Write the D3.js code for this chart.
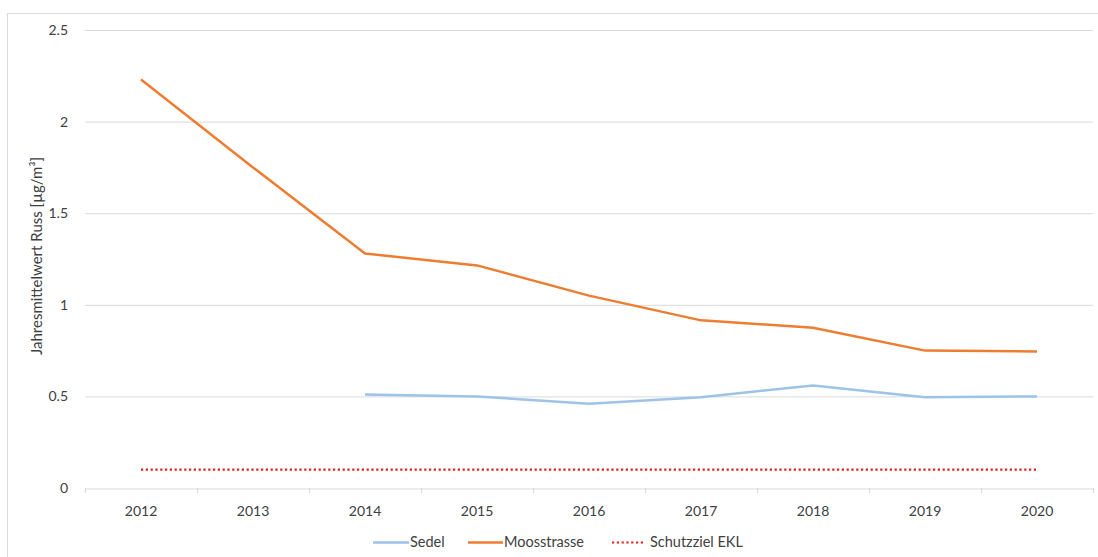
<!DOCTYPE html>
<html><head><meta charset="utf-8">
<script src="https://cdn.jsdelivr.net/npm/d3@7"></script>
<style>body{margin:0;background:#fff}svg{font-family:Lato,"Open Sans",sans-serif}</style>
</head><body><svg id="c" width="1098" height="557"></svg>
<script>
const years = ["2012","2013","2014","2015","2016","2017","2018","2019","2020"];
const sedel = [null,null,0.51,0.50,0.46,0.495,0.56,0.495,0.50];
const moos = [2.23,1.75,1.28,1.215,1.05,0.915,0.875,0.75,0.745];
const ziel = [0.1,0.1,0.1,0.1,0.1,0.1,0.1,0.1,0.1];
const yTicks = [0,0.5,1,1.5,2,2.5];
const yTickLabels = ["0","0.5","1","1.5","2","2.5"];

const TXT="#404040";
const svg = d3.select("#c");
svg.append("rect").attr("x",7.5).attr("y",13.5).attr("width",1100).attr("height",560).attr("fill","#fff").attr("stroke","#d9d9d9");
const L=85,R=1093,T=30,B=488;
const x = d3.scaleBand().domain(years).range([L,R]);
const y = d3.scaleLinear().domain([0,2.5]).range([B,T]);
const cx = d=>x(d)+x.bandwidth()/2;

// grid
svg.append("g").selectAll("line").data(yTicks.filter(v=>v>0)).join("line")
 .attr("x1",L).attr("x2",R).attr("y1",d=>y(d)+0.5).attr("y2",d=>y(d)+0.5).attr("stroke","#d9d9d9");
// y labels
svg.append("g").selectAll("text").data(yTicks).join("text")
 .attr("x",68).attr("y",d=>y(d)+5).attr("text-anchor","end").attr("font-size",14).attr("fill",TXT)
 .text((d,i)=>yTickLabels[i]);
// x axis
const xa = svg.append("g").attr("transform",`translate(0,${B+0.5})`)
 .call(d3.axisBottom(x).tickSize(0).tickPadding(18));
xa.select(".domain").attr("stroke","#d9d9d9");
xa.selectAll("text").attr("font-size",14).attr("fill",TXT).attr("font-family","Lato,'Open Sans',sans-serif");
svg.append("g").selectAll("line").data(years.concat(["end"])).join("line")
 .attr("x1",(d,i)=>Math.round(L+i*x.bandwidth())+0.5).attr("x2",(d,i)=>Math.round(L+i*x.bandwidth())+0.5)
 .attr("y1",B).attr("y2",B+5).attr("stroke","#d9d9d9");

// axis title
svg.append("text").attr("transform",`translate(42,256) rotate(-90)`).attr("text-anchor","middle")
 .attr("font-size",15).attr("fill",TXT).text("Jahresmittelwert Russ [µg/m³]");

const line = d3.line().defined(d=>d.v!=null).x(d=>cx(d.k)).y(d=>y(d.v));
const mk = arr=>years.map((k,i)=>({k,v:arr[i]}));
svg.append("path").datum(mk(ziel)).attr("d",line).attr("fill","none").attr("stroke","#e0201c").attr("stroke-width",2.2).attr("stroke-dasharray","2.2,2.6");
svg.append("path").datum(mk(sedel)).attr("d",line).attr("fill","none").attr("stroke","#9dc3e6").attr("stroke-width",2.5).attr("stroke-linejoin","round");
svg.append("path").datum(mk(moos)).attr("d",line).attr("fill","none").attr("stroke","#ed7d31").attr("stroke-width",2.5).attr("stroke-linejoin","round");

// legend
const leg = [
 {n:"Sedel",c:"#9dc3e6",x:373,w:36,dash:null},
 {n:"Moosstrasse",c:"#ed7d31",x:468,w:35,dash:null},
 {n:"Schutzziel EKL",c:"#e0201c",x:612,w:33,dash:"2.2,2.6"}];
const lg = svg.append("g");
leg.forEach(d=>{
  lg.append("line").attr("x1",d.x).attr("x2",d.x+d.w).attr("y1",542.5).attr("y2",542.5).attr("stroke",d.c).attr("stroke-width",d.dash?2.2:2.5).attr("stroke-dasharray",d.dash);
  lg.append("text").attr("x",d.x+d.w+(d.dash?5:1)).attr("y",547).attr("font-size",14.5).attr("fill",TXT).text(d.n);
});
</script></body></html>
